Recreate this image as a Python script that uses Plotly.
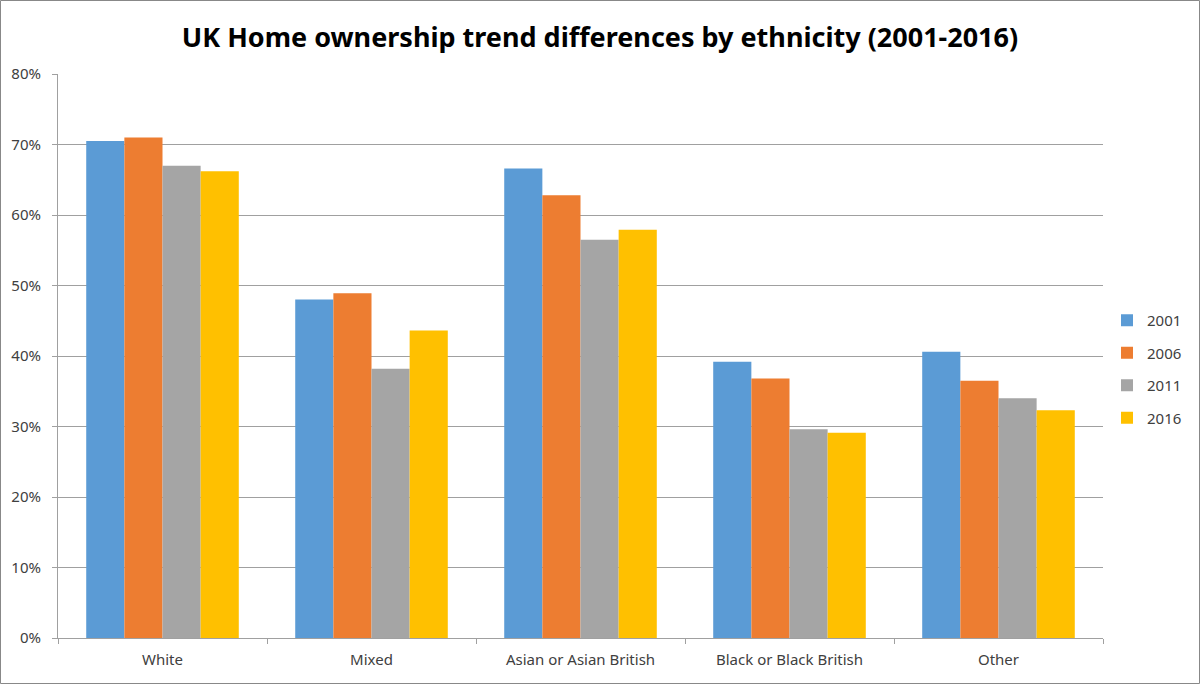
import plotly.graph_objects as go

categories = ["White", "Mixed", "Asian or Asian British", "Black or Black British", "Other"]
years = ["2001", "2006", "2011", "2016"]
values_2001 = [0.705, 0.480, 0.666, 0.392, 0.406]
values_2006 = [0.710, 0.489, 0.628, 0.368, 0.365]
values_2011 = [0.670, 0.382, 0.565, 0.296, 0.340]
values_2016 = [0.662, 0.436, 0.579, 0.291, 0.323]
colors = ["#5B9BD5", "#ED7D31", "#A5A5A5", "#FFC000"]
y_ticks = [0, 0.1, 0.2, 0.3, 0.4, 0.5, 0.6, 0.7, 0.8]

series = [values_2001, values_2006, values_2011, values_2016]

W, H = 1200, 684
ml, mr, mt, mb = 58, 97, 74, 46
pw, ph = W - ml - mr, H - mt - mb

fig = go.Figure()
for yr, vals, col in zip(years, series, colors):
    fig.add_trace(go.Bar(name=yr, x=categories, y=vals, marker=dict(color=col, line=dict(width=0)),
                         legendgroup=yr))

fig.update_layout(
    width=W, height=H,
    margin=dict(l=ml, r=mr, t=mt, b=mb, autoexpand=False),
    paper_bgcolor="white", plot_bgcolor="white",
    barmode="group", bargap=0.27, bargroupgap=0,
    font=dict(family="Noto Sans", size=15, color="#404040"),
    title=dict(text="<b>UK Home ownership trend differences by ethnicity (2001-2016)</b>",
               x=0.5, xref="container", xanchor="center", y=1 - 38 / H, yanchor="middle",
               font=dict(family="Noto Sans", size=27, color="#000000")),
    showlegend=True,
    legend=dict(x=1 + 4 / pw, xanchor="left", y=(638 - 369) / ph, yanchor="middle",
                font=dict(size=15, color="#404040"), traceorder="grouped", tracegroupgap=10,
                itemwidth=30, bgcolor="rgba(0,0,0,0)"),
    xaxis=dict(showline=True, linecolor="#A0A0A0", linewidth=1, ticks="outside", tickson="boundaries",
               ticklen=5, tickcolor="#A0A0A0", showgrid=False, ticklabelstandoff=8,
               tickfont=dict(size=15, color="#404040")),
    yaxis=dict(range=[0, 0.8], tickvals=y_ticks, tickformat=".0%", showline=True, linecolor="#A0A0A0",
               linewidth=1, ticks="outside", ticklen=5, tickcolor="#A0A0A0", showgrid=True,
               gridcolor="#A0A0A0", gridwidth=1, zeroline=False, ticklabelstandoff=8,
               tickfont=dict(size=15, color="#404040")),
    shapes=[dict(type="rect", xref="paper", yref="paper",
                 x0=(0.5 - ml) / pw, x1=(W - 0.5 - ml) / pw,
                 y0=-(mb - 0.5) / ph, y1=1 + (mt - 0.5) / ph,
                 line=dict(color="#888888", width=1), fillcolor="rgba(0,0,0,0)")],
)

fig.write_html("out.html", config={"displayModeBar": False},
               post_script="document.body.style.margin='0';document.body.style.overflow='hidden';")
